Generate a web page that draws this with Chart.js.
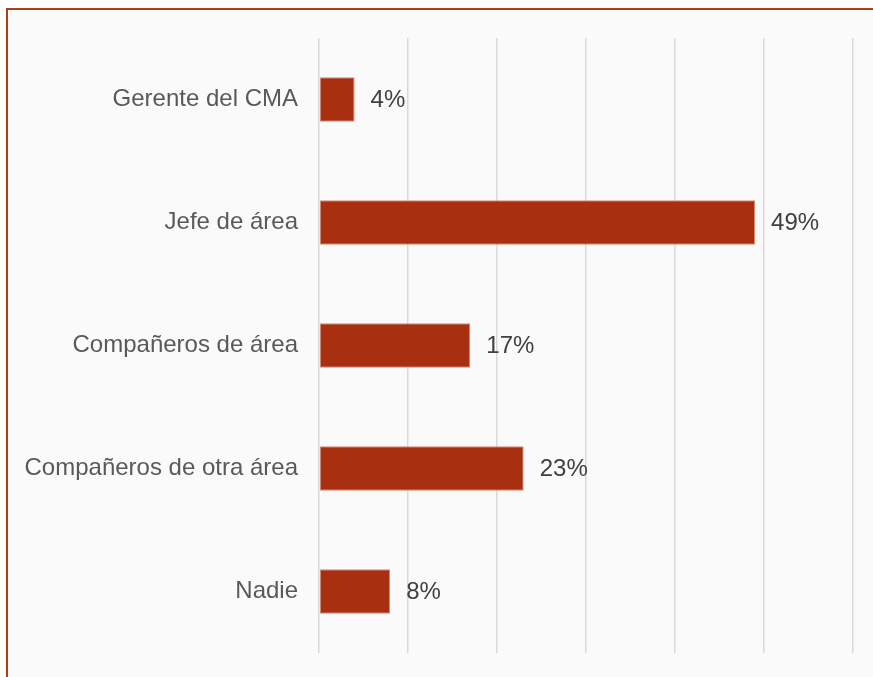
<!DOCTYPE html>
<html lang="es">
<head>
<meta charset="utf-8">
<title>Gráfico de barras</title>
<script src="https://cdn.jsdelivr.net/npm/chart.js@4/dist/chart.umd.min.js"></script>
<style>
    html, body {
        margin: 0;
        padding: 0;
        background: #ffffff;
        overflow: hidden;
    }
    /* Marco del gráfico: sólo se ven los bordes izquierdo y superior */
    .frame {
        position: absolute;
        left: 6px;
        top: 8px;
        width: 1000px;
        height: 800px;
        border-left: 2px solid #b03c1c;
        border-top: 2px solid #b03c1c;
        background: #fafafa;
    }
    #barChart {
        position: absolute;
        left: 0;
        top: 0;
    }
</style>
</head>
<body>
<div class="frame"></div>
<canvas id="barChart" width="873" height="677"></canvas>

<script>
// Datos del gráfico
const categories = ['Gerente del CMA', 'Jefe de área', 'Compañeros de área', 'Compañeros de otra área', 'Nadie'];
const percentages = [4, 49, 17, 23, 8];
const axisMax = 60;
const axisStep = 10;

const BAR_COLOR = '#a82f10';
const FONT_FAMILY = '"Liberation Sans", Arial, sans-serif';
const FONT_SIZE = 24;

// Etiquetas de porcentaje a la derecha de cada barra
const valueLabels = {
    id: 'valueLabels',
    afterDatasetsDraw(chart) {
        const ctx = chart.ctx;
        const meta = chart.getDatasetMeta(0);
        ctx.save();
        ctx.font = FONT_SIZE + 'px ' + FONT_FAMILY;
        ctx.fillStyle = '#404040';
        ctx.textAlign = 'left';
        ctx.textBaseline = 'middle';
        meta.data.forEach((bar, i) => {
            ctx.fillText(percentages[i] + '%', bar.x + 16, bar.y + 1);
        });
        ctx.restore();
    }
};

new Chart(document.getElementById('barChart'), {
    type: 'bar',
    data: {
        labels: categories,
        datasets: [{
            data: percentages,
            backgroundColor: BAR_COLOR,
            borderColor: '#d98a74',
            borderWidth: 1,
            borderSkipped: false,
            barPercentage: 0.36,
            categoryPercentage: 1
        }]
    },
    options: {
        indexAxis: 'y',
        responsive: false,
        animation: false,
        layout: {
            padding: { top: 38, bottom: 24, right: 20, left: 0 }
        },
        plugins: {
            legend: { display: false },
            tooltip: { enabled: false }
        },
        scales: {
            x: {
                min: 0,
                max: axisMax,
                ticks: { display: false, stepSize: axisStep },
                grid: { color: '#d9d9d9', lineWidth: 1.5, drawTicks: false },
                border: { display: false }
            },
            y: {
                afterFit: (scale) => {
                    scale.width = 319;
                    scale.paddingTop = 0;
                    scale.paddingBottom = 0;
                },
                grid: { display: false, drawTicks: false },
                border: { display: false },
                ticks: {
                    padding: 21,
                    color: '#595959',
                    font: { family: FONT_FAMILY, size: FONT_SIZE }
                }
            }
        }
    },
    plugins: [valueLabels]
});
</script>
</body>
</html>
